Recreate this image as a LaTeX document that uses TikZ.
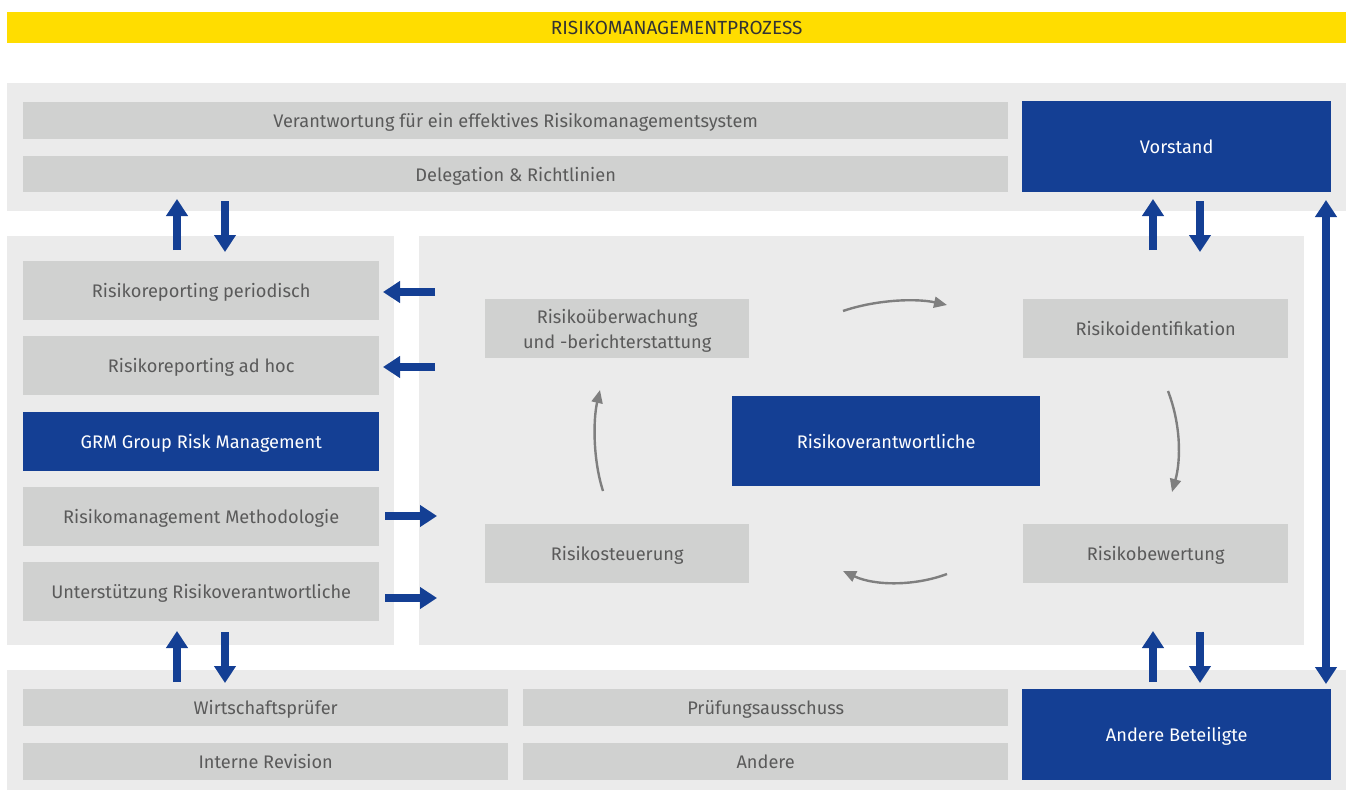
\documentclass[tikz,border=0pt]{standalone}
\usepackage{fontspec}
\setmainfont{Fira Sans}
\usetikzlibrary{arrows.meta}
\definecolor{panelgray}{HTML}{EBEBEB}
\definecolor{boxgray}{HTML}{D0D1D0}
\definecolor{txtgray}{HTML}{5A5A5A}
\definecolor{rblue}{HTML}{143F94}
\definecolor{ryellow}{HTML}{FFDD00}
\definecolor{cgray}{HTML}{7F7F7F}
\begin{document}
\begin{tikzpicture}[x=1pt,y=-1pt,
  panel/.style={fill=panelgray},
  gbox/.style={fill=boxgray, text=txtgray, anchor=north west, inner sep=0pt, align=center, text depth=0pt, font=\fontsize{18.2}{25}\selectfont},
  bbox/.style={fill=rblue, text=white, anchor=north west, inner sep=0pt, align=center, text depth=0pt, font=\fontsize{18.2}{25}\selectfont},
  barrow/.style={draw=rblue, line width=8pt, -{Triangle[width=21pt,length=17pt]}},
  dbarrow/.style={draw=rblue, line width=8pt, {Triangle[width=21pt,length=17pt]}-{Triangle[width=21pt,length=17pt]}},
  carrow/.style={draw=cgray, line width=2.4pt, -{Triangle[width=11pt,length=13pt]}}
]
\fill[white] (0,0) rectangle (1348,790);
\useasboundingbox (0,0) rectangle (1348,790);
% title bar
\node[fill=ryellow, anchor=north west, inner sep=0pt, minimum width=1339pt, minimum height=31pt, text=black!80, text depth=0pt, font=\fontsize{19}{22}\selectfont] (title) at (7,12) {RISIKOMANAGEMENTPROZESS};
% panels
\node[panel, anchor=north west, inner sep=0pt, minimum width=1339pt, minimum height=128pt] (toppanel) at (7,83) {};
\node[panel, anchor=north west, inner sep=0pt, minimum width=387pt, minimum height=409pt] (leftpanel) at (7,236) {};
\node[panel, anchor=north west, inner sep=0pt, minimum width=885pt, minimum height=409pt] (centerpanel) at (419,236) {};
\node[panel, anchor=north west, inner sep=0pt, minimum width=1339pt, minimum height=120pt] (botpanel) at (7,670) {};
% top boxes
\node[gbox, minimum width=985pt, minimum height=37pt] (verant) at (23,102) {Verantwortung für ein effektives Risikomanagementsystem};
\node[gbox, minimum width=985pt, minimum height=36pt] (deleg) at (23,156) {Delegation \& Richtlinien};
\node[bbox, minimum width=309pt, minimum height=91pt] (vorstand) at (1022,101) {Vorstand};
% left boxes
\node[gbox, minimum width=356pt, minimum height=59pt] (periodisch) at (23,261) {Risikoreporting periodisch};
\node[gbox, minimum width=356pt, minimum height=59pt] (adhoc) at (23,336) {Risikoreporting ad hoc};
\node[bbox, minimum width=356pt, minimum height=59pt] (grm) at (23,412) {GRM Group Risk Management};
\node[gbox, minimum width=356pt, minimum height=59pt] (method) at (23,487) {Risikomanagement Methodologie};
\node[gbox, minimum width=356pt, minimum height=59pt] (unterst) at (23,562) {Unterstützung Risikoverantwortliche};
% center boxes
\node[gbox, minimum width=264pt, minimum height=59pt] (ueberw) at (485,299) {Risikoüberwachung\\und -berichterstattung};
\node[gbox, minimum width=265pt, minimum height=59pt] (ident) at (1023,299) {Risikoidentifikation};
\node[gbox, minimum width=264pt, minimum height=59pt] (steuer) at (485,524) {Risikosteuerung};
\node[gbox, minimum width=265pt, minimum height=59pt] (bewert) at (1023,524) {Risikobewertung};
\node[bbox, minimum width=308pt, minimum height=90pt] (rverant) at (732,396) {Risikoverantwortliche};
% bottom boxes
\node[gbox, minimum width=485pt, minimum height=37pt] (wp) at (23,689) {Wirtschaftsprüfer};
\node[gbox, minimum width=485pt, minimum height=37pt] (ir) at (23,743) {Interne Revision};
\node[gbox, minimum width=485pt, minimum height=37pt] (pa) at (523,689) {Prüfungsausschuss};
\node[gbox, minimum width=485pt, minimum height=37pt] (andere) at (523,743) {Andere};
\node[bbox, minimum width=309pt, minimum height=91pt] (beteil) at (1022,689) {Andere Beteiligte};
% blue arrows
\draw[barrow] (177,250) -- (177,199);
\draw[barrow] (225,201) -- (225,252);
\draw[barrow] (1153,250) -- (1153,199);
\draw[barrow] (1200,201) -- (1200,252);
\draw[barrow] (177,682) -- (177,631);
\draw[barrow] (225,632) -- (225,683);
\draw[barrow] (1153,682) -- (1153,631);
\draw[barrow] (1200,632) -- (1200,683);
\draw[dbarrow] (1326,200) -- (1326,684);
\draw[barrow] (435,292) -- (383,292);
\draw[barrow] (435,367) -- (383,367);
\draw[barrow] (385,516) -- (437,516);
\draw[barrow] (385,598) -- (437,598);
% cycle arrows
\draw[carrow] (843,311) .. controls (875,300) and (915,298) .. (947,305);
\draw[carrow] (1168,391) .. controls (1181,425) and (1181,460) .. (1172,492);
\draw[carrow] (947,574) .. controls (915,586) and (875,586) .. (843,571);
\draw[carrow] (603,491) .. controls (593,460) and (593,420) .. (600,390);
\end{tikzpicture}
\end{document}
